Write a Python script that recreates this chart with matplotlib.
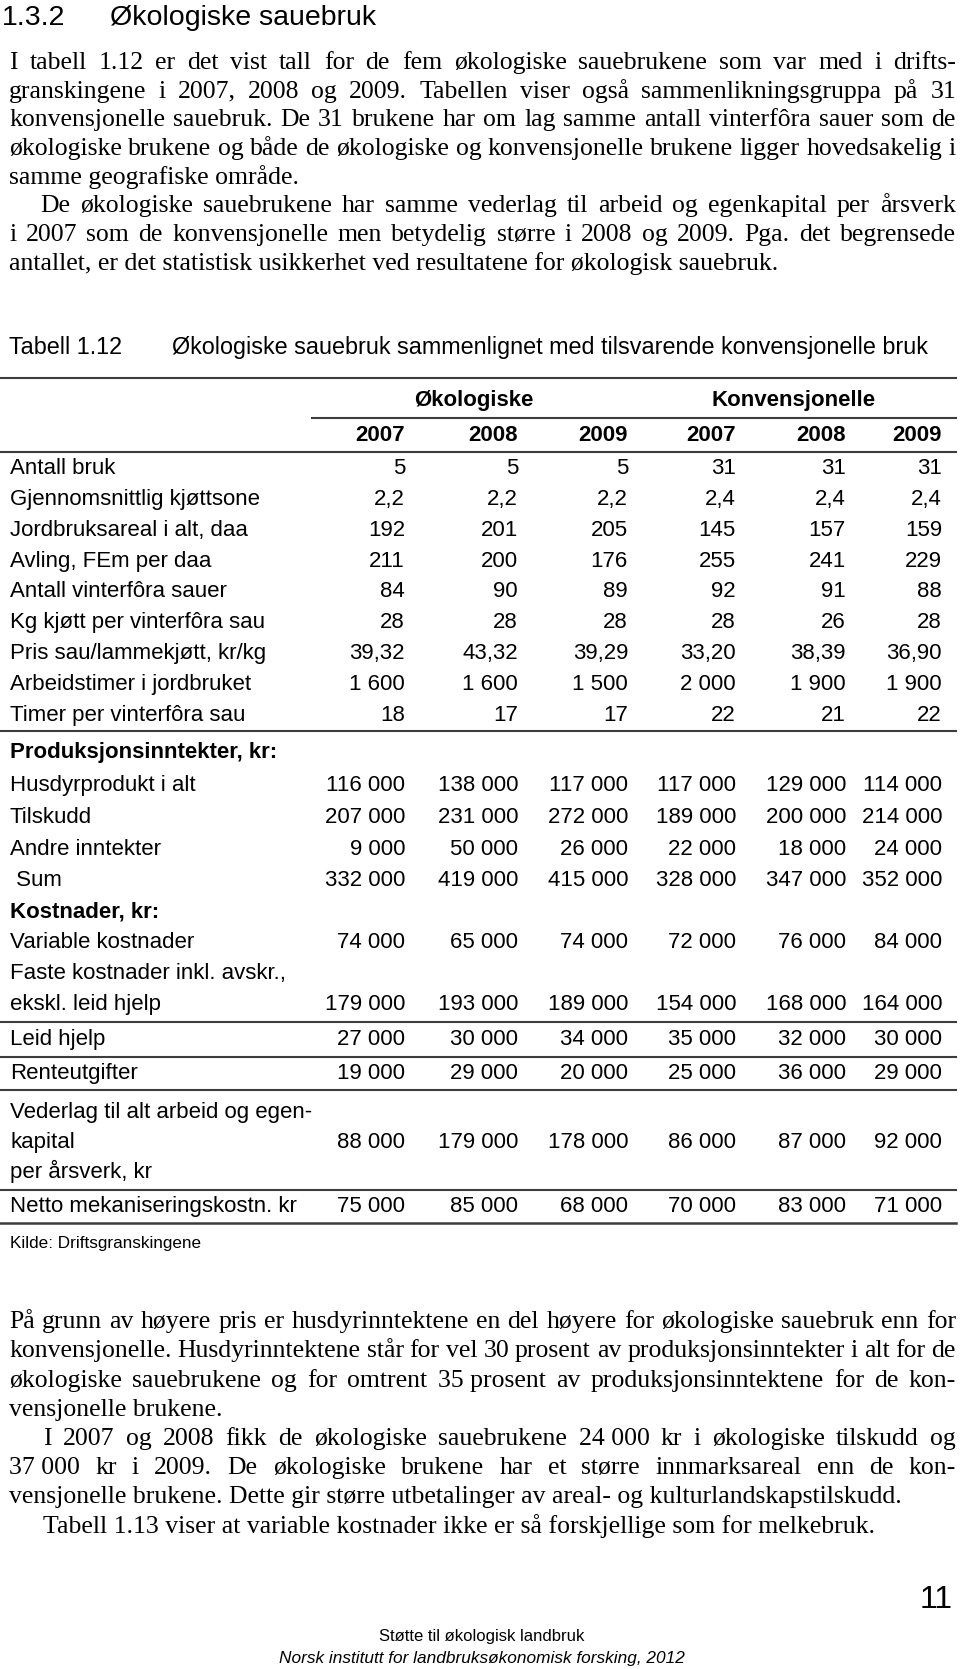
import matplotlib
matplotlib.use('Agg')
import matplotlib.pyplot as plt
from matplotlib.lines import Line2D

# table data, as printed
years = ['2007', '2008', '2009', '2007', '2008', '2009']
groups = ['Økologiske', 'Konvensjonelle']

labels = ['Antall bruk', 'Gjennomsnittlig kjøttsone', 'Jordbruksareal i alt, daa',
          'Avling, FEm per daa', 'Antall vinterfôra sauer', 'Kg kjøtt per vinterfôra sau',
          'Pris sau/lammekjøtt, kr/kg', 'Arbeidstimer i jordbruket', 'Timer per vinterfôra sau',
          'Produksjonsinntekter, kr:', 'Husdyrprodukt i alt', 'Tilskudd', 'Andre inntekter',
          ' Sum', 'Kostnader, kr:', 'Variable kostnader', 'Faste kostnader inkl. avskr.,',
          'ekskl. leid hjelp', 'Leid hjelp', 'Renteutgifter', 'Vederlag til alt arbeid og egen-',
          'kapital', 'per årsverk, kr', 'Netto mekaniseringskostn. kr']
bold_rows = ['Produksjonsinntekter, kr:', 'Kostnader, kr:']

oko_2007 = ['5', '2,2', '192', '211', '84', '28', '39,32', '1 600', '18', '', '116 000', '207 000',
            '9 000', '332 000', '', '74 000', '', '179 000', '27 000', '19 000', '', '88 000', '', '75 000']
oko_2008 = ['5', '2,2', '201', '200', '90', '28', '43,32', '1 600', '17', '', '138 000', '231 000',
            '50 000', '419 000', '', '65 000', '', '193 000', '30 000', '29 000', '', '179 000', '', '85 000']
oko_2009 = ['5', '2,2', '205', '176', '89', '28', '39,29', '1 500', '17', '', '117 000', '272 000',
            '26 000', '415 000', '', '74 000', '', '189 000', '34 000', '20 000', '', '178 000', '', '68 000']
konv_2007 = ['31', '2,4', '145', '255', '92', '28', '33,20', '2 000', '22', '', '117 000', '189 000',
             '22 000', '328 000', '', '72 000', '', '154 000', '35 000', '25 000', '', '86 000', '', '70 000']
konv_2008 = ['31', '2,4', '157', '241', '91', '26', '38,39', '1 900', '21', '', '129 000', '200 000',
             '18 000', '347 000', '', '76 000', '', '168 000', '32 000', '36 000', '', '87 000', '', '83 000']
konv_2009 = ['31', '2,4', '159', '229', '88', '28', '36,90', '1 900', '22', '', '114 000', '214 000',
             '24 000', '352 000', '', '84 000', '', '164 000', '30 000', '29 000', '', '92 000', '', '71 000']
columns = [oko_2007, oko_2008, oko_2009, konv_2007, konv_2008, konv_2009]

# running text: (line, justified, indented)
intro = [
    ('I tabell 1.12 er det vist tall for de fem økologiske sauebrukene som var med i drifts-', True, False),
    ('granskingene i 2007, 2008 og 2009. Tabellen viser også sammenlikningsgruppa på 31', True, False),
    ('konvensjonelle sauebruk. De 31 brukene har om lag samme antall vinterfôra sauer som de', True, False),
    ('økologiske brukene og både de økologiske og konvensjonelle brukene ligger hovedsakelig i', True, False),
    ('samme geografiske område.', False, False),
    ('De økologiske sauebrukene har samme vederlag til arbeid og egenkapital per årsverk', True, True),
    ('i 2007 som de konvensjonelle men betydelig større i 2008 og 2009. Pga. det begrensede', True, False),
    ('antallet, er det statistisk usikkerhet ved resultatene for økologisk sauebruk.', False, False),
]
outro = [
    ('På grunn av høyere pris er husdyrinntektene en del høyere for økologiske sauebruk enn for', True, False),
    ('konvensjonelle. Husdyrinntektene står for vel 30 prosent av produksjonsinntekter i alt for de', True, False),
    ('økologiske sauebrukene og for omtrent 35\u00a0prosent av produksjonsinntektene for de kon-', True, False),
    ('vensjonelle brukene.', False, False),
    ('I 2007 og 2008 fikk de økologiske sauebrukene 24\u00a0000 kr i økologiske tilskudd og', True, True),
    ('37\u00a0000 kr i 2009. De økologiske brukene har et større innmarksareal enn de kon-', True, False),
    ('vensjonelle brukene. Dette gir større utbetalinger av areal- og kulturlandskapstilskudd.', False, False),
    ('Tabell 1.13 viser at variable kostnader ikke er så forskjellige som for melkebruk.', False, True),
]

W, H = 960, 1669
SANS = 'Liberation Sans'
SERIF = 'Liberation Serif'

fig = plt.figure(figsize=(W / 100, H / 100), dpi=100)
fig.patch.set_facecolor('white')
rend = fig.canvas.get_renderer()


def put(x, y, s, fontsize=16, **kw):
    # y is the visual middle of the line, in pixels from the top
    base = y + 0.32 * fontsize * 100 / 72
    return fig.text(x / W, 1 - base / H, s, fontsize=fontsize, va='baseline', **kw)


def hline(x0, x1, y, lw=1.5):
    fig.add_artist(Line2D([x0 / W, x1 / W], [1 - y / H, 1 - y / H],
                          transform=fig.transFigure, color='#3c3c3c', lw=lw))


body = dict(family=SERIF, fontsize=18.5, color='black')
LEFT, RIGHT = 9, 956


def paragraph(lines, y0, step, indent):
    for i, (txt, just, ind) in enumerate(lines):
        y = y0 + i * step
        x0 = LEFT + (indent if ind else 0)
        if not just:
            put(x0, y, txt.replace('\u00a0', ' '), **body)
            continue
        words = txt.split(' ')
        texts = [put(0, y, w.replace('\u00a0', ' '), **body) for w in words]
        widths = [t.get_window_extent(rend).width for t in texts]
        gap = (RIGHT - x0 - sum(widths)) / (len(words) - 1)
        x = x0
        for t, w in zip(texts, widths):
            t.set_x(x / W)
            x += w + gap


# heading
put(2, 16, '1.3.2', family=SANS, fontsize=20.5)
put(110, 16, 'Økologiske sauebruk', family=SANS, fontsize=20.5)

paragraph(intro, 60.7, 28.7, 31)

# table
put(9, 347, 'Tabell 1.12', family=SANS, fontsize=16.8)
put(172, 347, 'Økologiske sauebruk sammenlignet med tilsvarende konvensjonelle bruk',
    family=SANS, fontsize=16.8)

col_right = [405, 518, 628, 736, 846, 942]
group_mid = [474, 794]
row_y = [467 + i * 30.8 for i in range(9)] + \
        [751, 784, 816, 848, 879, 910, 941, 972, 1003, 1038, 1072, 1111, 1141, 1171, 1205]
tab = dict(family=SANS, fontsize=16, color='black')

hline(0, 956, 378)
for g, xm in zip(groups, group_mid):
    put(xm, 399, g, ha='center', fontweight='bold', **tab)
hline(312, 956, 418)
for yr, xr in zip(years, col_right):
    put(xr, 434, yr, ha='right', fontweight='bold', **tab)
hline(0, 956, 452)

for i, lab in enumerate(labels):
    w = 'bold' if lab in bold_rows else 'normal'
    put(10, row_y[i], lab, fontweight=w, **tab)
    for col, xr in zip(columns, col_right):
        if col[i]:
            put(xr, row_y[i], col[i], ha='right', **tab)

for yy in [731, 1022, 1057, 1090, 1190]:
    hline(0, 956, yy)
hline(0, 956, 1223, lw=1.8)

put(10, 1243, 'Kilde: Driftsgranskingene', family=SANS, fontsize=12.3)

paragraph(outro, 1320, 29.2, 34)

# page foot
put(953, 1598, '11', ha='right', family=SANS, fontsize=23)
put(482, 1636, 'Støtte til økologisk landbruk', ha='center', family=SANS, fontsize=12)
put(482, 1657, 'Norsk institutt for landbruksøkonomisk forsking, 2012', ha='center',
    family=SANS, fontsize=12.4, style='italic')

fig.savefig('out.png', dpi=100, facecolor='white')
